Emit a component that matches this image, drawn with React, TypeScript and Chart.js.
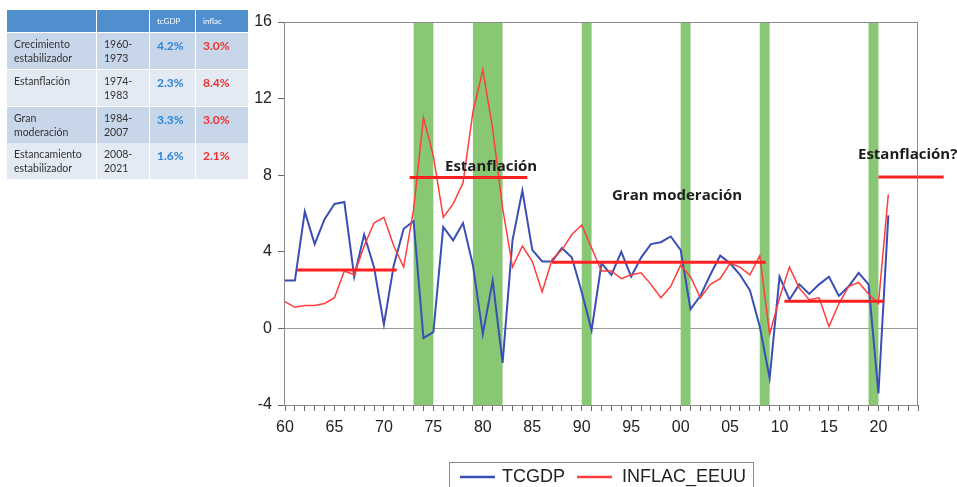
import React, { useEffect, useRef } from "react";
import { Chart, registerables } from "chart.js";

Chart.register(...registerables);

// ---------- DATA ----------
const years = [
  1960, 1961, 1962, 1963, 1964, 1965, 1966, 1967, 1968, 1969,
  1970, 1971, 1972, 1973, 1974, 1975, 1976, 1977, 1978, 1979,
  1980, 1981, 1982, 1983, 1984, 1985, 1986, 1987, 1988, 1989,
  1990, 1991, 1992, 1993, 1994, 1995, 1996, 1997, 1998, 1999,
  2000, 2001, 2002, 2003, 2004, 2005, 2006, 2007, 2008, 2009,
  2010, 2011, 2012, 2013, 2014, 2015, 2016, 2017, 2018, 2019,
  2020, 2021,
];

const tcgdp = [
  2.5, 2.5, 6.1, 4.4, 5.7, 6.5, 6.6, 2.7, 4.9, 3.2,
  0.2, 3.3, 5.2, 5.6, -0.5, -0.2, 5.3, 4.6, 5.5, 3.3,
  -0.3, 2.5, -1.8, 4.6, 7.2, 4.1, 3.5, 3.5, 4.2, 3.7,
  1.9, -0.1, 3.4, 2.8, 4.0, 2.7, 3.7, 4.4, 4.5, 4.8,
  4.1, 1.0, 1.7, 2.8, 3.8, 3.4, 2.8, 2.0, 0.1, -2.6,
  2.7, 1.5, 2.3, 1.8, 2.3, 2.7, 1.7, 2.2, 2.9, 2.3,
  -3.4, 5.9,
];

const inflacEEUU = [
  1.4, 1.1, 1.2, 1.2, 1.3, 1.6, 3.0, 2.8, 4.3, 5.5,
  5.8, 4.3, 3.2, 6.2, 11.0, 9.0, 5.8, 6.5, 7.6, 11.3,
  13.5, 10.4, 6.3, 3.2, 4.3, 3.5, 1.9, 3.6, 4.1, 4.9,
  5.4, 4.2, 3.0, 3.0, 2.6, 2.8, 2.9, 2.3, 1.6, 2.2,
  3.3, 2.7, 1.6, 2.3, 2.6, 3.4, 3.2, 2.8, 3.8, -0.3,
  1.6, 3.2, 2.1, 1.5, 1.6, 0.1, 1.3, 2.2, 2.4, 1.8,
  1.3, 7.0,
];

const seriesLabels = ["TCGDP", "INFLAC_EEUU"];

const recessionStart = [1973, 1979, 1990, 2000, 2008, 2019];
const recessionEnd = [1975, 1982, 1991, 2001, 2009, 2020];

// hand-drawn period average lines
const periodLineStart = [1961.2, 1972.6, 1987.0, 2010.5, 2020.0];
const periodLineEnd = [1971.3, 1984.5, 2008.6, 2020.6, 2026.6];
const periodLineLevel = [3.05, 7.88, 3.46, 1.42, 7.9];

const annotationTexts = ["Estanflación", "Gran moderación", "Estanflación?"];

const xLabeledYears = [1960, 1965, 1970, 1975, 1980, 1985, 1990, 1995, 2000, 2005, 2010, 2015, 2020];
const xTickLabels = ["60", "65", "70", "75", "80", "85", "90", "95", "00", "05", "10", "15", "20"];
const yTicks = [-4, 0, 4, 8, 12, 16];

// table
const tableHeaders = ["", "", "tcGDP", "inflac"];
const periodNames = [
  ["Crecimiento", "estabilizador"],
  ["Estanflación"],
  ["Gran", "moderación"],
  ["Estancamiento", "estabilizador"],
];
const periodYears = [
  ["1960-", "1973"],
  ["1974-", "1983"],
  ["1984-", "2007"],
  ["2008-", "2021"],
];
const gdpAvg = ["4.2%", "2.3%", "3.3%", "1.6%"];
const inflAvg = ["3.0%", "8.4%", "3.0%", "2.1%"];

// ---------- LAYOUT / STYLE ----------
const annotationPos = [
  { x: 445, y: 167 },
  { x: 612, y: 196 },
  { x: 858, y: 155 },
];

const recessionPlugin = {
  id: "recessions",
  beforeDatasetsDraw(chart: any) {
    const { ctx, chartArea, scales } = chart;
    const x = scales.x;
    ctx.save();
    ctx.fillStyle = "#88c874";
    recessionStart.forEach((s, i) => {
      const x0 = x.getPixelForValue(s);
      const x1 = x.getPixelForValue(recessionEnd[i]);
      ctx.fillRect(x0, chartArea.top, x1 - x0, chartArea.bottom - chartArea.top);
    });
    ctx.restore();
  },
  afterDatasetsDraw(chart: any) {
    const { ctx, chartArea } = chart;
    ctx.save();
    ctx.strokeStyle = "#8a8a8a";
    ctx.lineWidth = 1;
    ctx.strokeRect(
      Math.round(chartArea.left) - 0.5,
      Math.round(chartArea.top) + 0.5,
      Math.round(chartArea.right - chartArea.left),
      Math.round(chartArea.bottom - chartArea.top)
    );
    ctx.restore();
  },
  afterDraw(chart: any) {
    const { ctx } = chart;
    ctx.save();
    // annotations
    ctx.fillStyle = "#1e1e1e";
    ctx.font = "bold 15px 'Open Sans'";
    ctx.textBaseline = "middle";
    ctx.textAlign = "left";
    annotationTexts.forEach((t, i) => {
      ctx.fillText(t, annotationPos[i].x, annotationPos[i].y);
    });
    // legend
    const lx = 449.5, ly = 462.5, lw = 304, lh = 40;
    ctx.strokeStyle = "#8a8a8a";
    ctx.lineWidth = 1;
    ctx.strokeRect(lx, ly, lw, lh);
    const ds = chart.data.datasets.slice(0, 2);
    const sampleX = [460, 577];
    const textX = [502, 622];
    ctx.font = "18px 'Liberation Sans'";
    ctx.fillStyle = "#222";
    ds.forEach((d: any, i: number) => {
      ctx.strokeStyle = d.borderColor;
      ctx.lineWidth = 2.5;
      ctx.beginPath();
      ctx.moveTo(sampleX[i], 477);
      ctx.lineTo(sampleX[i] + 35, 477);
      ctx.stroke();
      ctx.fillText(d.label, textX[i], 477);
    });
    ctx.restore();
  },
};

function Table() {
  const colX = [7, 97, 150, 196];
  const colW = [89, 52, 45, 52];
  const rowY = [33, 70, 107, 143];
  const rowH = 36;
  const cells: any[] = [];
  // header
  tableHeaders.forEach((h, c) => {
    cells.push(
      <div
        key={"h" + c}
        style={{
          position: "absolute",
          left: colX[c],
          top: 10,
          width: colW[c],
          height: 22,
          background: "#4f8fcd",
          color: "#fff",
          fontSize: 8,
          fontFamily: "Lato",
          lineHeight: "22px",
          paddingLeft: 7,
          boxSizing: "border-box",
        }}
      >
        {h}
      </div>
    );
  });
  periodNames.forEach((names, r) => {
    const bg = r % 2 === 0 ? "#c8d6ea" : "#e3eaf4";
    const contents = [names, periodYears[r], [gdpAvg[r]], [inflAvg[r]]];
    contents.forEach((lines, c) => {
      const isVal = c >= 2;
      cells.push(
        <div
          key={"c" + r + "_" + c}
          style={{
            position: "absolute",
            left: colX[c],
            top: rowY[r],
            width: colW[c],
            height: rowH,
            background: bg,
            boxSizing: "border-box",
            paddingLeft: 7,
            paddingTop: isVal ? 6 : 5,
            fontFamily: "Lato",
            fontSize: isVal ? 12 : 10.5,
            fontWeight: isVal ? 700 : 400,
            lineHeight: "13.5px",
            color: c === 2 ? "#2a86d6" : c === 3 ? "#ee3333" : "#333",
          }}
        >
          {lines.map((l: string, k: number) => (
            <div key={k}>{l}</div>
          ))}
        </div>
      );
    });
  });
  return <>{cells}</>;
}

export default function App() {
  const canvasRef = useRef<HTMLCanvasElement | null>(null);

  useEffect(() => {
    const canvas = canvasRef.current;
    if (!canvas) return;
    const lineDatasets = periodLineStart.map((s, i) => ({
      label: "periodo" + i,
      data: [
        { x: s, y: periodLineLevel[i] },
        { x: periodLineEnd[i], y: periodLineLevel[i] },
      ],
      borderColor: "#ff2020",
      borderWidth: 3,
      pointRadius: 0,
      clip: false as any,
      order: 0,
    }));
    const chart = new Chart(canvas, {
      type: "line",
      data: {
        datasets: [
          {
            label: seriesLabels[0],
            data: years.map((y, i) => ({ x: y, y: tcgdp[i] })),
            borderColor: "#3a4fb5",
            borderWidth: 2,
            pointRadius: 0,
            tension: 0,
            order: 2,
          },
          {
            label: seriesLabels[1],
            data: years.map((y, i) => ({ x: y, y: inflacEEUU[i] })),
            borderColor: "#ff3d3d",
            borderWidth: 1.5,
            pointRadius: 0,
            tension: 0,
            order: 1,
          },
          ...lineDatasets,
        ],
      },
      options: {
        animation: false,
        responsive: false,
        events: [],
        layout: { padding: { left: 0, top: 22, right: 39, bottom: 0 } },
        plugins: {
          legend: { display: false },
          tooltip: { enabled: false },
        },
        scales: {
          x: {
            type: "linear",
            min: 1960,
            max: 2024,
            afterBuildTicks: (scale: any) => {
              const t: any[] = [];
              for (let v = scale.min; v <= scale.max; v++) t.push({ value: v });
              scale.ticks = t;
            },
            afterFit: (scale: any) => {
              scale.height = 82;
            },
            ticks: {
              autoSkip: false,
              maxRotation: 0,
              padding: 7,
              color: "#222",
              font: { family: "'Liberation Sans'", size: 16 },
              callback: (value: any) => {
                const i = xLabeledYears.indexOf(Number(value));
                return i >= 0 ? xTickLabels[i] : "";
              },
            },
            grid: {
              drawOnChartArea: false,
              drawTicks: true,
              tickLength: 6,
              tickColor: "#666",
            },
            border: { display: false },
          },
          y: {
            min: -4,
            max: 16,
            afterBuildTicks: (scale: any) => {
              scale.ticks = yTicks.map((v) => ({ value: v }));
            },
            afterFit: (scale: any) => {
              scale.width = 285;
            },
            ticks: {
              padding: 6,
              color: "#222",
              font: { family: "'Liberation Sans'", size: 16 },
            },
            grid: {
              drawTicks: true,
              tickLength: 7,
              tickColor: "#666",
              color: (ctx: any) => (ctx.tick && ctx.tick.value === 0 ? "#9a9a9a" : "rgba(0,0,0,0)"),
            },
            border: { display: false },
          },
        },
      },
      plugins: [recessionPlugin],
    });
    return () => chart.destroy();
  }, []);

  return (
    <div style={{ position: "absolute", left: 0, top: 0, width: 957, height: 487, background: "#fff", overflow: "hidden" }}>
      <canvas ref={canvasRef} width={957} height={487} style={{ display: "block", width: 957, height: 487 }} />
      <Table />
    </div>
  );
}
